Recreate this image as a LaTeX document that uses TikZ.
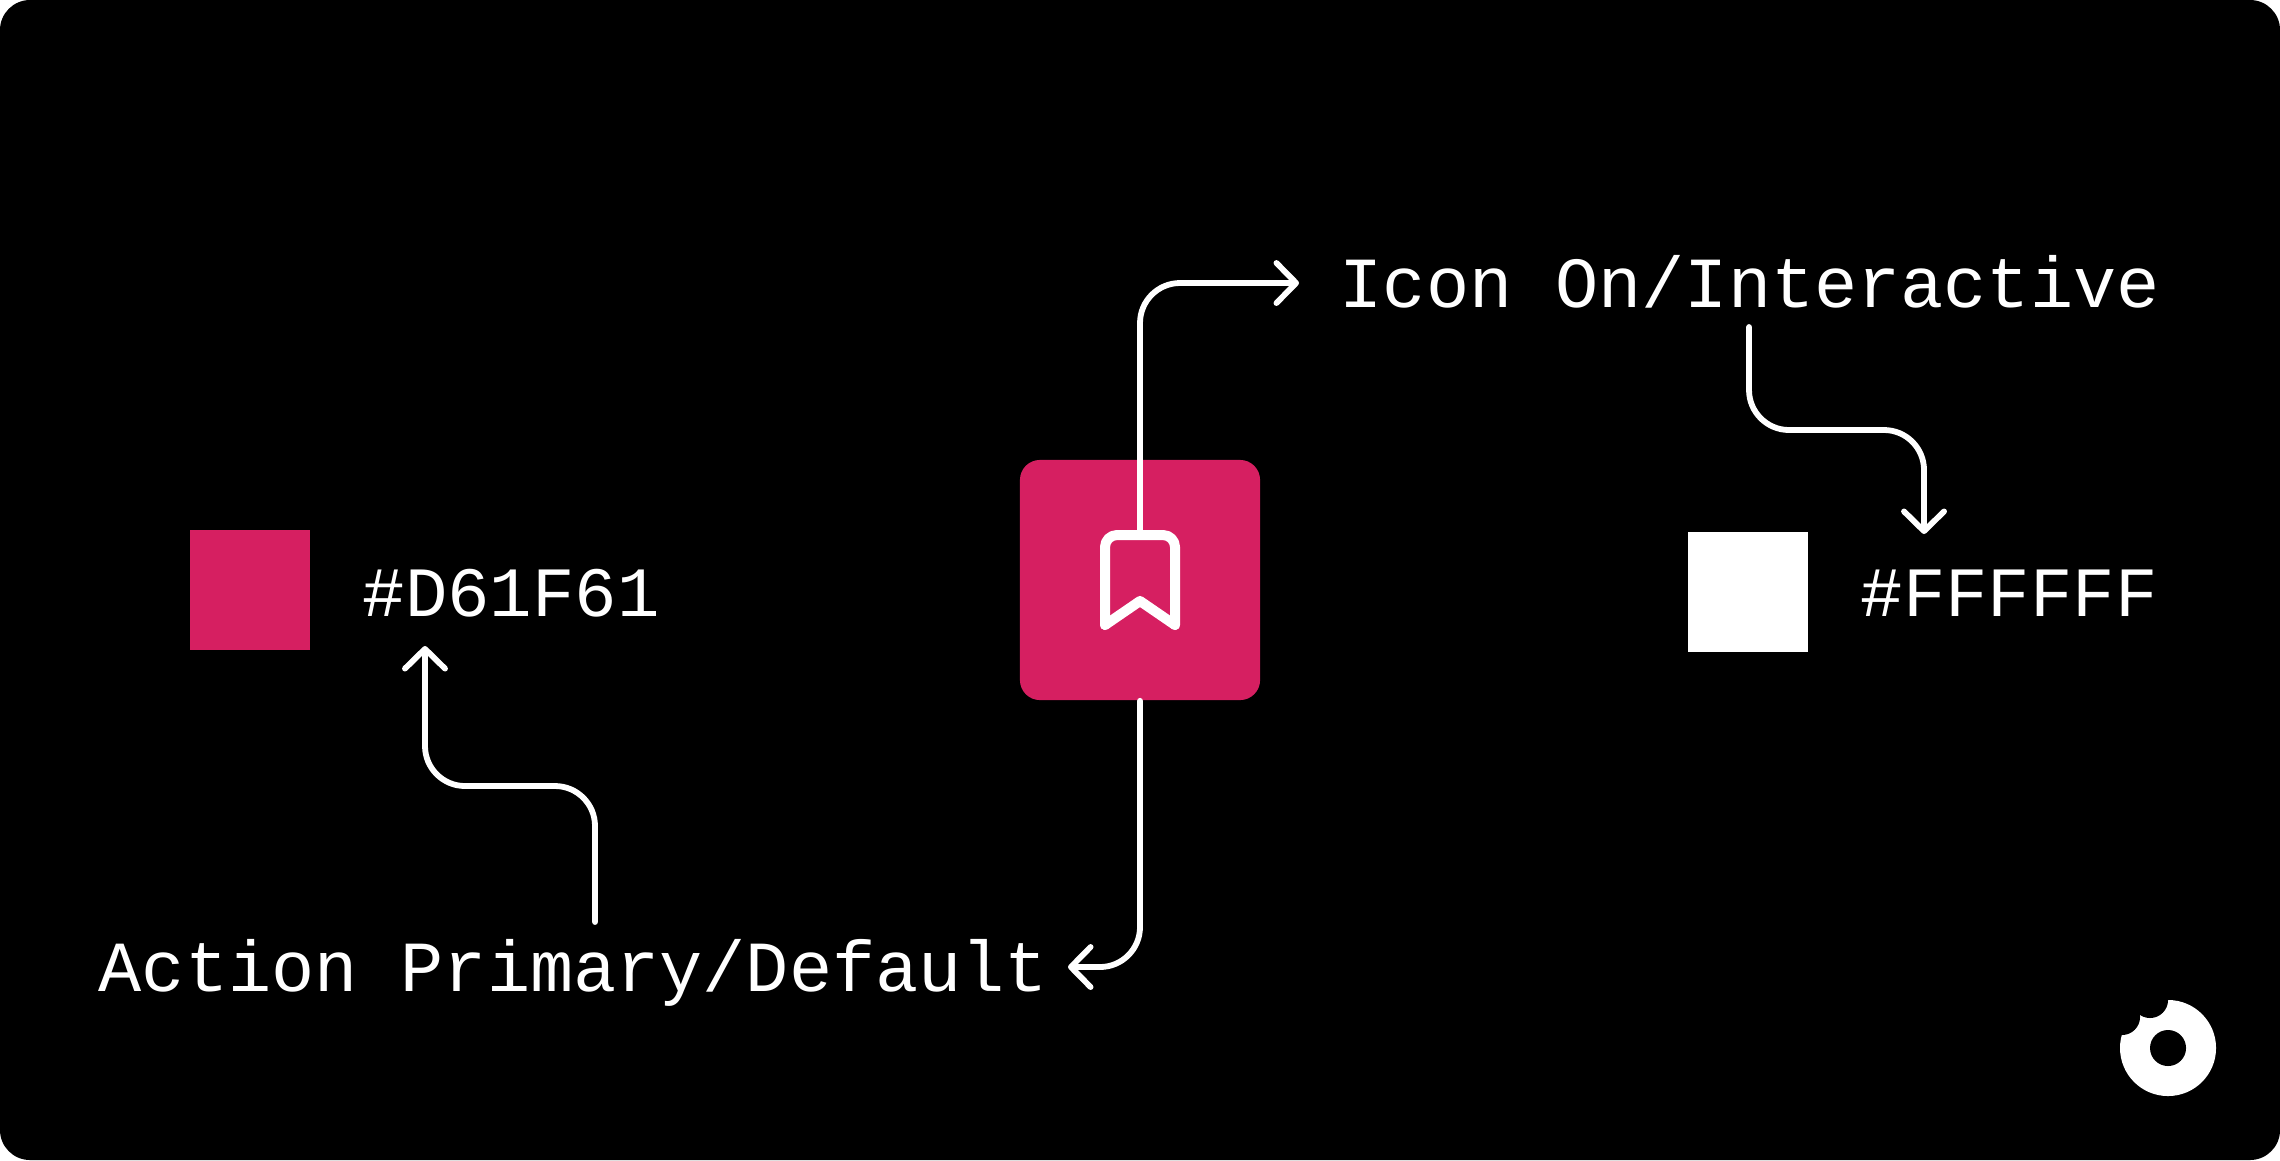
\documentclass[tikz,border=0pt]{standalone}
\usepackage{fontspec}
\setmonofont{Liberation Mono}
\usetikzlibrary{arrows.meta}
\definecolor{actionpink}{HTML}{D61F61}
\begin{document}
\begin{tikzpicture}[x=.01cm, y=-.01cm,
    swatch/.style = {minimum size=1.2cm, inner sep=0, fill=#1},
    codelabel/.style = {anchor=base west, inner sep=0, text=white, font=\ttfamily\fontsize{#1}{24}\selectfont},
    codelabel/.default = 20.45,
    conn/.style = {draw=white, line width=1.65pt, line cap=round, rounded corners=4mm, -{Straight Barb[round, length=5.6pt, width=11.4pt]}}]
        \useasboundingbox (0,0) rectangle (2280,1160);
        \fill[white] (0,0) rectangle (2280,1160);
        \fill[black, rounded corners=3mm] (0,0) rectangle (2280,1160);

        \node[swatch=actionpink] (pinkswatch) at (250,590) {};
        \node[swatch=white] (whiteswatch) at (1748,592) {};
        \node[codelabel=20.1] (pinkhex) at (362,616) {\#D61F61};
        \node[codelabel=20.1] (whitehex) at (1860,616) {\#FFFFFF};
        \node[codelabel] (iconlabel) at (1339,307) {Icon On/Interactive};
        \node[codelabel] (actionlabel) at (98,991) {Action Primary/Default};
        \node[minimum size=2.4cm, inner sep=0, fill=actionpink, rounded corners=2mm] (button) at (1140,580) {};

        % bookmark glyph
        \draw[white, line width=2.85pt, line join=round, line cap=round, rounded corners=1.2mm]
            (1105,625) -- (1105,535) -- (1175,535) -- (1175,625);
        \draw[white, line width=2.85pt, line join=round, line cap=round]
            (1105,625) -- (1140,601) -- (1175,625);

        \coordinate (bookmarktop) at (1140,532);
        \coordinate (icontip) at (1299,283);
        \coordinate (iconout) at (1749,327);
        \coordinate (whitebend) at (1924,430);
        \coordinate (whitetip) at (1924,534);
        \coordinate (actionout) at (595,922);
        \coordinate (pinkbend) at (425,786);
        \coordinate (pinktip) at (425,646);
        \coordinate (actiontip) at (1068,967);

        \draw[conn] (bookmarktop) |- (icontip);
        \draw[conn] (iconout) |- (whitebend) -- (whitetip);
        \draw[conn] (actionout) |- (pinkbend) -- (pinktip);
        \draw[conn] (button.south) |- (actiontip);

        % logo
        \fill[white] (2168,1048) circle (.48cm);
        \fill[black] (2168,1048) circle (.18cm);
        \fill[black] (2150,1000) circle (.18cm);
        \fill[black] (2122,1017) circle (.18cm);
    \end{tikzpicture}
\end{document}
